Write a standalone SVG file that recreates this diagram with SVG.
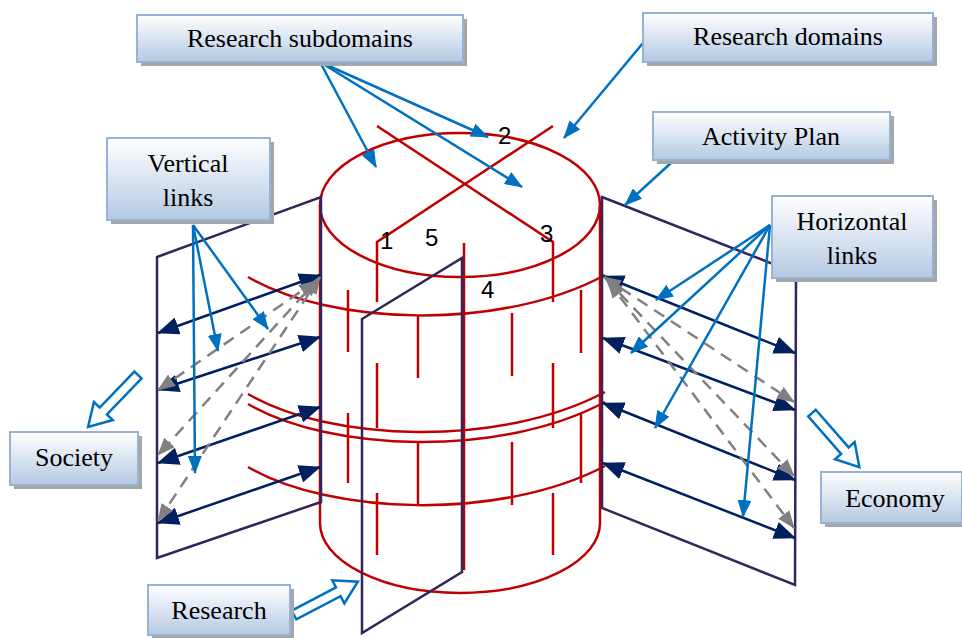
<svg xmlns="http://www.w3.org/2000/svg" width="962" height="638" viewBox="0 0 962 638">
<defs>
<linearGradient id="bg" x1="0" y1="0" x2="0" y2="1">
<stop offset="0" stop-color="#ffffff"/>
<stop offset="1" stop-color="#b4c9e3"/>
</linearGradient>
<marker id="nv" viewBox="0 0 22 18" markerUnits="userSpaceOnUse" markerWidth="22" markerHeight="18" refX="21" refY="9" orient="auto-start-reverse">
<path d="M0,0 L22,9 L0,18 z" fill="#002060"/>
</marker>
<marker id="gr" viewBox="0 0 18 14" markerUnits="userSpaceOnUse" markerWidth="18" markerHeight="14" refX="17" refY="7" orient="auto-start-reverse">
<path d="M0,0 L18,7 L0,14 z" fill="#808080"/>
</marker>
<marker id="bl" viewBox="0 0 18 14" markerUnits="userSpaceOnUse" markerWidth="18" markerHeight="14" refX="17" refY="7" orient="auto">
<path d="M0,0 L18,7 L0,14 z" fill="#0070C0"/>
</marker>
<path id="blk" d="M0,-5 L50,-5 L50,-13 L72,0 L50,13 L50,5 L0,5 z"/>
</defs>
<style>
.red{fill:none;stroke:#C00000;stroke-width:2.5}
.pur{fill:none;stroke:#33245a;stroke-width:2.5;stroke-linejoin:miter}
.nav{fill:none;stroke:#002060;stroke-width:2.5;marker-start:url(#nv);marker-end:url(#nv)}
.gry{fill:none;stroke:#808080;stroke-width:2.5;stroke-dasharray:12 8;marker-start:url(#gr);marker-end:url(#gr)}
.blu{fill:none;stroke:#0070C0;stroke-width:2.5;marker-end:url(#bl)}
.hol{fill:#ffffff;stroke:#0070C0;stroke-width:2.5}
.box{fill:url(#bg);stroke:#95b3d7;stroke-width:2}
.shd{fill:#a6a6a6}
.lbl{font-family:"Liberation Serif","Times New Roman",serif;font-size:26px;fill:#000;text-anchor:middle}
.num{font-family:"Liberation Sans",Arial,sans-serif;font-size:24px;fill:#000}
</style>

<g id="cylinder">
<ellipse class="red" cx="460" cy="205" rx="140" ry="72"/>
<path class="red" d="M320,205 L320,523 A140,70 0 0 0 600,523 L600,205"/>
<path class="red" d="M248,277 C330,325 500,332 605,275"/>
<path class="red" d="M248,394 C330,442 500,448 605,392"/>
<path class="red" d="M248,404 C330,452 500,458 605,402"/>
<path class="red" d="M248,467 C330,515 500,521 605,466"/>
<path class="red" d="M377,126 L553,242 L553,302"/>
<path class="red" d="M553,126 L377,242 L377,302"/>
<path class="red" d="M348,290V352M348,413V483M581,290V353M581,413V483M377,363V428M377,493V555M553,363V428M553,493V555M418,316V378M418,442V505M512,313V376M512,442V505M464,243V570"/>
<text class="num" x="380" y="249">1</text>
<text class="num" x="498" y="144">2</text>
<text class="num" x="540" y="242">3</text>
<text class="num" x="481" y="298">4</text>
<text class="num" x="425" y="246">5</text>
</g>

<g id="society-plane">
<path class="pur" d="M157,257 L321,197 L321,502 L157,558 z"/>
</g>
<g id="economy-plane">
<path class="pur" d="M602,197 L796,273 L795,585 L602,508 z"/>
</g>
<g id="research-plane">
<path class="pur" d="M362,319 L462,258 L462,572 L362,633 z"/>
</g>

<g id="connectors">
<line class="nav" x1="158" y1="333" x2="320" y2="275"/>
<line class="nav" x1="158" y1="390" x2="320" y2="337"/>
<line class="nav" x1="158" y1="463" x2="320" y2="407"/>
<line class="nav" x1="158" y1="523" x2="320" y2="467"/>
<line class="gry" x1="316" y1="281" x2="158" y2="390"/>
<line class="gry" x1="318" y1="279" x2="158" y2="455"/>
<line class="gry" x1="320" y1="277" x2="158" y2="521"/>
<line class="nav" x1="603" y1="276" x2="795" y2="353"/>
<line class="nav" x1="603" y1="338" x2="795" y2="410"/>
<line class="nav" x1="603" y1="403" x2="795" y2="480"/>
<line class="nav" x1="603" y1="463" x2="795" y2="538"/>
<line class="gry" x1="604" y1="277" x2="794" y2="402"/>
<line class="gry" x1="606" y1="279" x2="794" y2="476"/>
<line class="gry" x1="608" y1="281" x2="794" y2="528"/>
<line class="blu" x1="320" y1="62" x2="376" y2="167"/>
<line class="blu" x1="320" y1="62" x2="488" y2="137"/>
<line class="blu" x1="320" y1="62" x2="522" y2="187"/>
<line class="blu" x1="643" y1="43" x2="564" y2="138"/>
<line class="blu" x1="672" y1="162" x2="625" y2="205"/>
<line class="blu" x1="193" y1="225" x2="218" y2="351"/>
<line class="blu" x1="193" y1="225" x2="268" y2="329"/>
<line class="blu" x1="193" y1="225" x2="195" y2="473"/>
<line class="blu" x1="770" y1="225" x2="656" y2="300"/>
<line class="blu" x1="770" y1="225" x2="631" y2="353"/>
<line class="blu" x1="770" y1="225" x2="655" y2="428"/>
<line class="blu" x1="770" y1="225" x2="743" y2="517"/>
<use href="#blk" class="hol" transform="translate(138,375) rotate(133.9)"/>
<use href="#blk" class="hol" transform="translate(812,413) rotate(48.9)"/>
<use href="#blk" class="hol" transform="translate(294,615) rotate(-27.6)"/>
</g>

<g id="research-subdomains">
<rect class="shd" x="141" y="19" width="326" height="47"/>
<rect class="box" x="137" y="15" width="326" height="47"/>
<text class="lbl" x="300" y="47">Research subdomains</text>
</g>
<g id="research-domains">
<rect class="shd" x="647" y="17" width="290" height="49"/>
<rect class="box" x="643" y="13" width="290" height="49"/>
<text class="lbl" x="788" y="45">Research domains</text>
</g>
<g id="activity-plan">
<rect class="shd" x="657" y="116" width="237" height="48"/>
<rect class="box" x="653" y="112" width="237" height="48"/>
<text class="lbl" x="771" y="145">Activity Plan</text>
</g>
<g id="vertical-links">
<rect class="shd" x="111" y="142" width="163" height="82"/>
<rect class="box" x="107" y="138" width="163" height="82"/>
<text class="lbl" x="188" y="172">Vertical</text>
<text class="lbl" x="188" y="206">links</text>
</g>
<g id="horizontal-links">
<rect class="shd" x="776" y="200" width="161" height="82"/>
<rect class="box" x="772" y="196" width="161" height="82"/>
<text class="lbl" x="852" y="230">Horizontal</text>
<text class="lbl" x="852" y="264">links</text>
</g>
<g id="society">
<rect class="shd" x="14" y="436" width="128" height="53"/>
<rect class="box" x="10" y="432" width="128" height="53"/>
<text class="lbl" x="74" y="466">Society</text>
</g>
<g id="economy">
<rect class="shd" x="825" y="476" width="141" height="51"/>
<rect class="box" x="821" y="472" width="141" height="51"/>
<text class="lbl" x="895" y="507">Economy</text>
</g>
<g id="research">
<rect class="shd" x="152" y="589" width="142" height="50"/>
<rect class="box" x="148" y="585" width="142" height="50"/>
<text class="lbl" x="219" y="619">Research</text>
</g>
</svg>
